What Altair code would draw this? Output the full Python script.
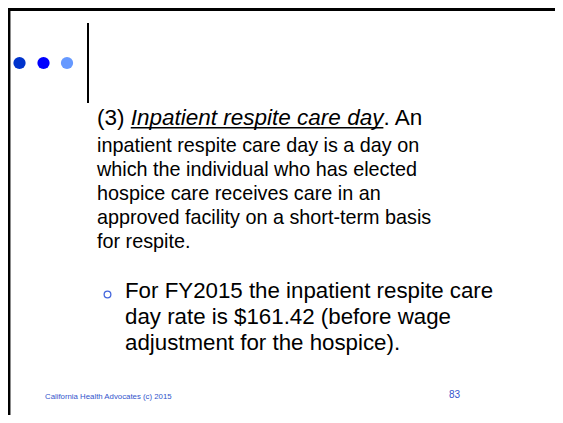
import altair as alt
import pandas as pd

# ---- content ----
intro_parts = ["(3) ", "Inpatient respite care day", ". An"]
para_lines = [
    "inpatient respite care day is a day on",
    "which the individual who has elected",
    "hospice care receives care in an",
    "approved facility on a short-term basis",
    "for respite.",
]
bullet_lines = [
    "For FY2015 the inpatient respite care",
    "day rate is $161.42 (before wage",
    "adjustment for the hospice).",
]
footer_text = "California Health Advocates (c) 2015"
page_number = "83"
dot_colors = ["#0033cc", "#0000ff", "#6699ff"]

# ---- layout ----
W, H, M = 563, 423, 8
VW, VH = W - 2 * M, H - 2 * M
FONT = "Liberation Sans"
F0, F1, F2 = 22.5, 19.8, 22.3
ARIAL = {"(": 333, ")": 333, "3": 556, " ": 278, "I": 278, "n": 556, "p": 556,
         "a": 556, "t": 278, "i": 222, "e": 556, "r": 333, "s": 500, "c": 500,
         "d": 556, "y": 500, ".": 278, "A": 667}


def tw(s, size):
    return sum(ARIAL.get(ch, 556) for ch in s) / 1000 * size


def X(f="x"):
    return alt.X(f"{f}:Q", scale=alt.Scale(domain=[M, M + VW], nice=False, zero=False), axis=None)


def Y(f="y"):
    return alt.Y(f"{f}:Q", scale=alt.Scale(domain=[M, M + VH], nice=False, zero=False, reverse=True), axis=None)


left1 = 97
base0 = 125
base1 = 151.5
step1 = 24

xs = [left1]
for p in intro_parts[:-1]:
    xs.append(xs[-1] + tw(p, F0))
intro_df = pd.DataFrame({
    "x": xs, "y": [base0] * 3, "t": intro_parts,
    "st": ["normal", "italic", "normal"],
})

intro_normal = alt.Chart(intro_df[intro_df.st == "normal"]).mark_text(
    align="left", baseline="alphabetic", font=FONT, fontSize=F0, color="black"
).encode(x=X(), y=Y(), text="t:N")
intro_italic = alt.Chart(intro_df[intro_df.st == "italic"]).mark_text(
    align="left", baseline="alphabetic", font=FONT, fontSize=F0, fontStyle="italic", color="black"
).encode(x=X(), y=Y(), text="t:N")

ul_df = pd.DataFrame({"x": [xs[1]], "x2": [xs[2]], "y": [base0 + 2.8]})
underline = alt.Chart(ul_df).mark_rule(color="black", strokeWidth=1.4).encode(
    x=X(), x2="x2:Q", y=Y())

para_df = pd.DataFrame({"x": [left1] * len(para_lines),
                        "y": [base1 + step1 * i for i in range(len(para_lines))],
                        "t": para_lines})
para = alt.Chart(para_df).mark_text(
    align="left", baseline="alphabetic", font=FONT, fontSize=F1, color="black"
).encode(x=X(), y=Y(), text="t:N")

left2, base2, step2 = 125, 297.5, 26
bul_df = pd.DataFrame({"x": [left2] * len(bullet_lines),
                       "y": [base2 + step2 * i for i in range(len(bullet_lines))],
                       "t": bullet_lines})
bul = alt.Chart(bul_df).mark_text(
    align="left", baseline="alphabetic", font=FONT, fontSize=F2, color="black"
).encode(x=X(), y=Y(), text="t:N")

bmark = alt.Chart(pd.DataFrame({"x": [107.5], "y": [294.5]})).mark_point(
    shape="circle", size=45, filled=False, color="#4466dd", strokeWidth=1.3, opacity=1
).encode(x=X(), y=Y())

dots_df = pd.DataFrame({"x": [19.5, 43.5, 67], "y": [63] * 3, "c": dot_colors})
dots = alt.Chart(dots_df).mark_circle(size=150, opacity=1).encode(
    x=X(), y=Y(), color=alt.Color("c:N", scale=None))

vline = alt.Chart(pd.DataFrame({"x": [88], "y": [23], "y2": [103]})).mark_rule(
    color="black", strokeWidth=2).encode(x=X(), y=Y(), y2="y2:Q")

top_border = alt.Chart(pd.DataFrame({"x": [M], "x2": [M + VW], "y": [9.5]})).mark_rule(
    color="black", strokeWidth=3).encode(x=X(), x2="x2:Q", y=Y())
left_border = alt.Chart(pd.DataFrame({"x": [9.2], "y": [M], "y2": [M + VH]})).mark_rule(
    color="black", strokeWidth=2.5).encode(x=X(), y=Y(), y2="y2:Q")

footer = alt.Chart(pd.DataFrame({"x": [45], "y": [399], "t": [footer_text]})).mark_text(
    align="left", baseline="alphabetic", font=FONT, fontSize=7.8, color="#3355cc"
).encode(x=X(), y=Y(), text="t:N")
pnum = alt.Chart(pd.DataFrame({"x": [449], "y": [398], "t": [page_number]})).mark_text(
    align="left", baseline="alphabetic", font=FONT, fontSize=10, color="#3355cc"
).encode(x=X(), y=Y(), text="t:N")

chart = alt.layer(
    top_border, left_border, dots, vline, intro_normal, intro_italic, underline,
    para, bmark, bul, footer, pnum
).properties(
    width=VW, height=VH, padding=0,
    autosize=alt.AutoSizeParams(type="none"),
).configure_view(stroke=None).configure(background="white")

chart.save("out.html", embed_options={"renderer": "svg", "actions": False})
